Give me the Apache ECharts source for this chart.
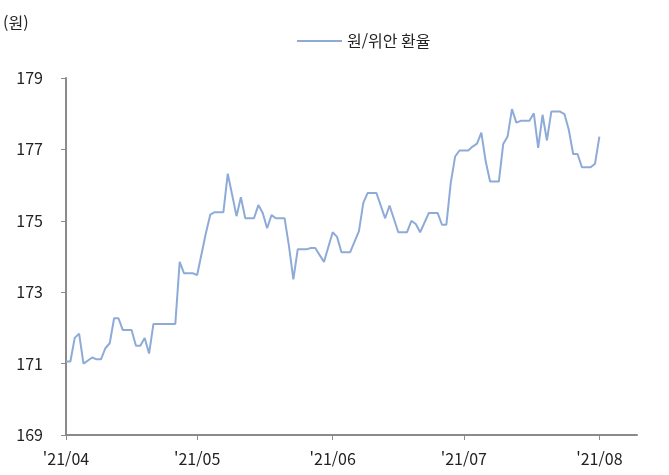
<!DOCTYPE html>
<html lang="ko">

<head>
  <meta charset="UTF-8">
  <title>원/위안 환율</title>
  <style>
    html, body { margin: 0; padding: 0; background: #fff; }
  </style>
</head>

<body>
  <div id="chart" style="width: 669px;height: 475px;"></div>

  <script src="https://cdn.jsdelivr.net/npm/echarts@6/dist/echarts.min.js"></script>
  <script>
    // 원/위안 환율
    let dates = [
      '2021-04-01', '2021-04-02', '2021-04-03', '2021-04-04', '2021-04-05', '2021-04-07', '2021-04-08',
      '2021-04-09', '2021-04-10', '2021-04-11', '2021-04-12', '2021-04-13', '2021-04-14', '2021-04-16',
      '2021-04-17', '2021-04-18', '2021-04-19', '2021-04-20', '2021-04-21', '2021-04-26', '2021-04-27',
      '2021-04-28', '2021-04-30', '2021-05-01', '2021-05-03', '2021-05-04', '2021-05-05', '2021-05-07',
      '2021-05-08', '2021-05-09', '2021-05-10', '2021-05-11', '2021-05-12', '2021-05-14', '2021-05-15',
      '2021-05-16', '2021-05-17', '2021-05-18', '2021-05-19', '2021-05-21', '2021-05-22', '2021-05-23',
      '2021-05-24', '2021-05-26', '2021-05-27', '2021-05-28', '2021-05-30', '2021-06-01', '2021-06-02',
      '2021-06-03', '2021-06-05', '2021-06-07', '2021-06-08', '2021-06-09', '2021-06-11', '2021-06-13',
      '2021-06-14', '2021-06-16', '2021-06-18', '2021-06-19', '2021-06-20', '2021-06-21', '2021-06-23',
      '2021-06-25', '2021-06-26', '2021-06-27', '2021-06-28', '2021-06-29', '2021-06-30', '2021-07-02',
      '2021-07-03', '2021-07-04', '2021-07-05', '2021-07-06', '2021-07-07', '2021-07-09', '2021-07-10',
      '2021-07-11', '2021-07-12', '2021-07-13', '2021-07-14', '2021-07-16', '2021-07-17', '2021-07-18',
      '2021-07-19', '2021-07-20', '2021-07-21', '2021-07-23', '2021-07-24', '2021-07-25', '2021-07-26',
      '2021-07-27', '2021-07-28', '2021-07-30', '2021-07-31', '2021-08-01'
    ]
    let rates = [
      171.06, 171.06, 171.72, 171.84, 171.00, 171.17, 171.12,
      171.12, 171.43, 171.57, 172.27, 172.27, 171.94, 171.94,
      171.50, 171.50, 171.72, 171.28, 172.11, 172.11, 173.85,
      173.53, 173.53, 173.48, 174.66, 175.17, 175.24, 175.24,
      176.32, 175.73, 175.13, 175.66, 175.07, 175.07, 175.44,
      175.22, 174.79, 175.16, 175.07, 175.07, 174.29, 173.36,
      174.20, 174.20, 174.24, 174.24, 173.85, 174.68, 174.55,
      174.12, 174.12, 174.71, 175.50, 175.78, 175.78, 175.07,
      175.43, 174.68, 174.68, 175.00, 174.91, 174.68, 175.22,
      175.22, 174.89, 174.89, 176.06, 176.80, 176.97, 176.97,
      177.08, 177.16, 177.47, 176.66, 176.10, 176.10, 177.15,
      177.36, 178.13, 177.75, 177.80, 177.80, 178.01, 177.04,
      177.97, 177.25, 178.06, 178.06, 177.99, 177.55, 176.87,
      176.87, 176.50, 176.50, 176.60, 177.36
    ]
    let monthTicks = ['2021-04-01', '2021-05-01', '2021-06-01', '2021-07-01', '2021-08-01']
    let monthLabels = ["'21/04", "'21/05", "'21/06", "'21/07", "'21/08"]
    let seriesName = '원/위안 환율'

    const FONT = '"Noto Sans CJK KR", "Noto Sans", sans-serif'
    const AXIS_GRAY = '#8a8a8a'
    const DAY = 24 * 3600 * 1000
    const START = Date.UTC(2021, 3, 1)

    // days since 2021-04-01
    function dayNo(s) {
      let p = s.split('-')
      return Math.round((Date.UTC(+p[0], +p[1] - 1, +p[2]) - START) / DAY)
    }

    let lineData = []
    for (let i = 0; i < dates.length; i++) {
      lineData.push([dayNo(dates[i]), rates[i]])
    }
    let tickValues = monthTicks.map(dayNo)

    let myChart = echarts.init(document.getElementById('chart'))

    let option = {
      animation: false,
      backgroundColor: '#fff',
      textStyle: { fontFamily: FONT },
      title: {
        text: '(원)',
        left: 3,
        top: 15,
        padding: 0,
        textStyle: { fontFamily: FONT, fontSize: 16, fontWeight: 'normal', color: '#222' }
      },
      legend: {
        left: 297,
        top: 33,
        padding: 0,
        itemWidth: 45,
        itemHeight: 2,
        icon: 'rect',
        textStyle: { fontFamily: FONT, fontSize: 16, color: '#222' },
        data: [seriesName]
      },
      grid: {
        left: 66,
        right: 32,
        top: 78,
        bottom: 40,
        outerBoundsMode: 'none'
      },
      xAxis: {
        type: 'value',
        min: 0,
        max: 130.6,
        axisLine: { show: true, lineStyle: { color: AXIS_GRAY, width: 2 } },
        axisTick: {
          show: true,
          length: 5,
          customValues: tickValues,
          lineStyle: { color: AXIS_GRAY, width: 1 }
        },
        axisLabel: {
          customValues: tickValues,
          margin: 16,
          fontFamily: FONT,
          fontSize: 16,
          color: '#222',
          formatter: function (val) {
            let i = tickValues.indexOf(Math.round(val))
            return i >= 0 ? monthLabels[i] : ''
          }
        },
        splitLine: { show: false }
      },
      yAxis: {
        type: 'value',
        min: 169,
        max: 179,
        interval: 2,
        axisLine: { show: true, lineStyle: { color: AXIS_GRAY, width: 2 } },
        axisTick: { show: true, length: 5, lineStyle: { color: AXIS_GRAY, width: 1 } },
        axisLabel: { margin: 23, fontFamily: FONT, fontSize: 16, color: '#222' },
        splitLine: { show: false }
      },
      series: [{
        name: seriesName,
        type: 'line',
        data: lineData,
        showSymbol: false,
        symbol: 'none',
        color: '#8eabd8',
        lineStyle: { color: '#8eabd8', width: 2 }
      }]
    }
    myChart.setOption(option)
  </script>
</body>

</html>
